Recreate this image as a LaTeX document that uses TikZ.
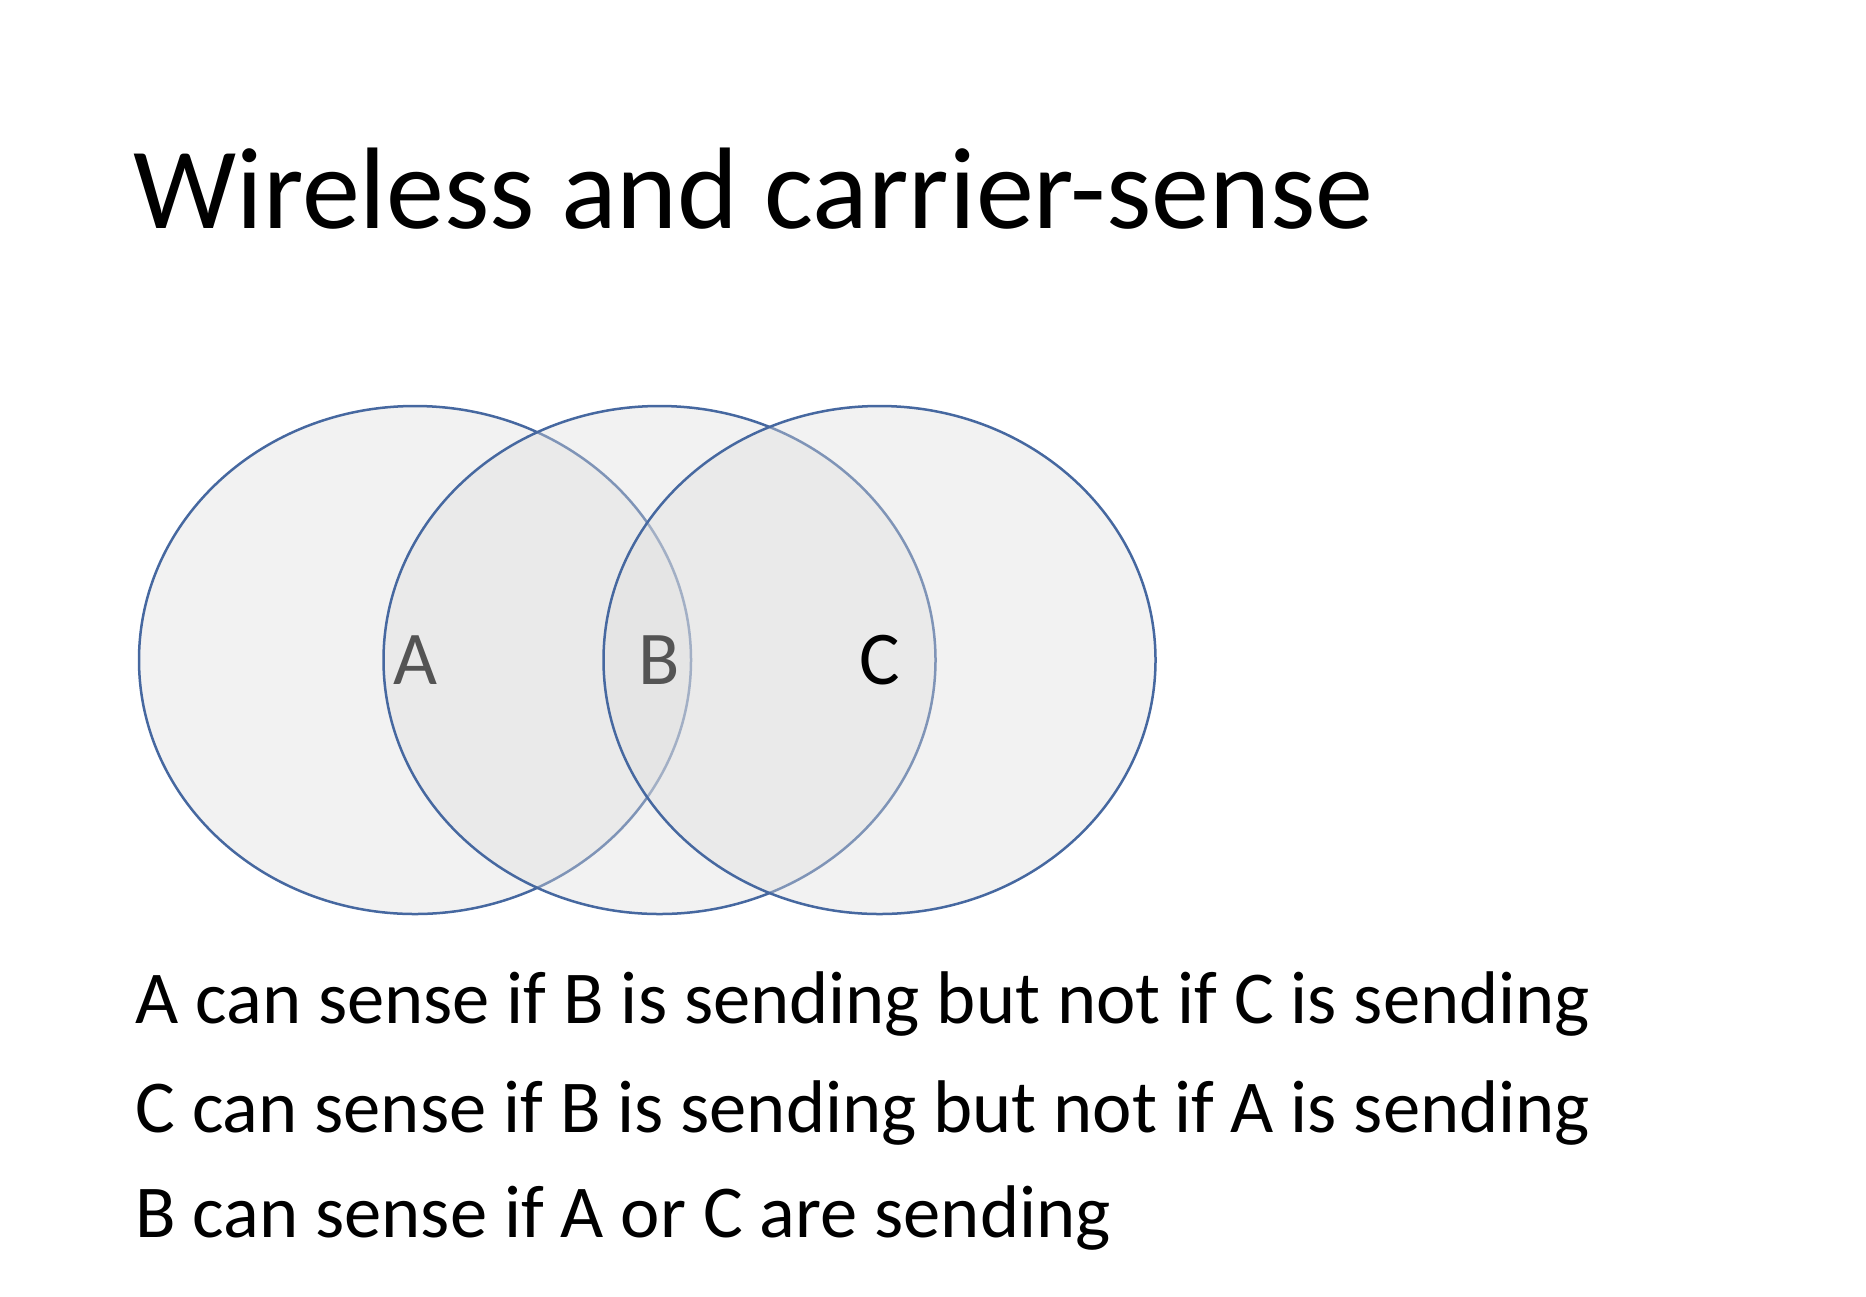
\documentclass[tikz,border=0pt]{standalone}
\usepackage{fontspec}
\setmainfont{Carlito}
\usetikzlibrary{shapes.geometric, positioning}
\definecolor{rangeblue}{RGB}{70, 104, 160}
\definecolor{rangegrey}{RGB}{221, 221, 221}

\begin{document}
\begin{tikzpicture}[
    x=0.5pt, y=0.5pt,
    cover/.style={ellipse, draw=rangeblue, line width=1.25pt, fill=rangegrey, fill opacity=0.38, text opacity=1, minimum width=276pt, minimum height=254pt, inner sep=0pt, font=\fontsize{38}{46}\selectfont},
    heading/.style={anchor=base west, inner sep=0pt, font=\fontsize{58}{70}\selectfont},
    remark/.style={anchor=base west, inner sep=0pt, font=\fontsize{37.3}{45}\selectfont}
]
\useasboundingbox (0,0) rectangle (1866,-1296);

% Title
\node[heading] (title) at (133,-228) {Wireless and carrier-sense};

% Ranges of the stations
\node[cover] (a) at (415,-660) {A};
\node[cover] (b) at (659.5,-660) {B};
\node[cover] (c) at (879.5,-660) {C};

% Remarks
\node[remark] (r1) at (135,-1023) {A can sense if B is sending but not if C is sending};
\node[remark] (r2) at (135,-1132) {C can sense if B is sending but not if A is sending};
\node[remark] (r3) at (135,-1237) {B can sense if A or C are sending};

\end{tikzpicture}
\end{document}
